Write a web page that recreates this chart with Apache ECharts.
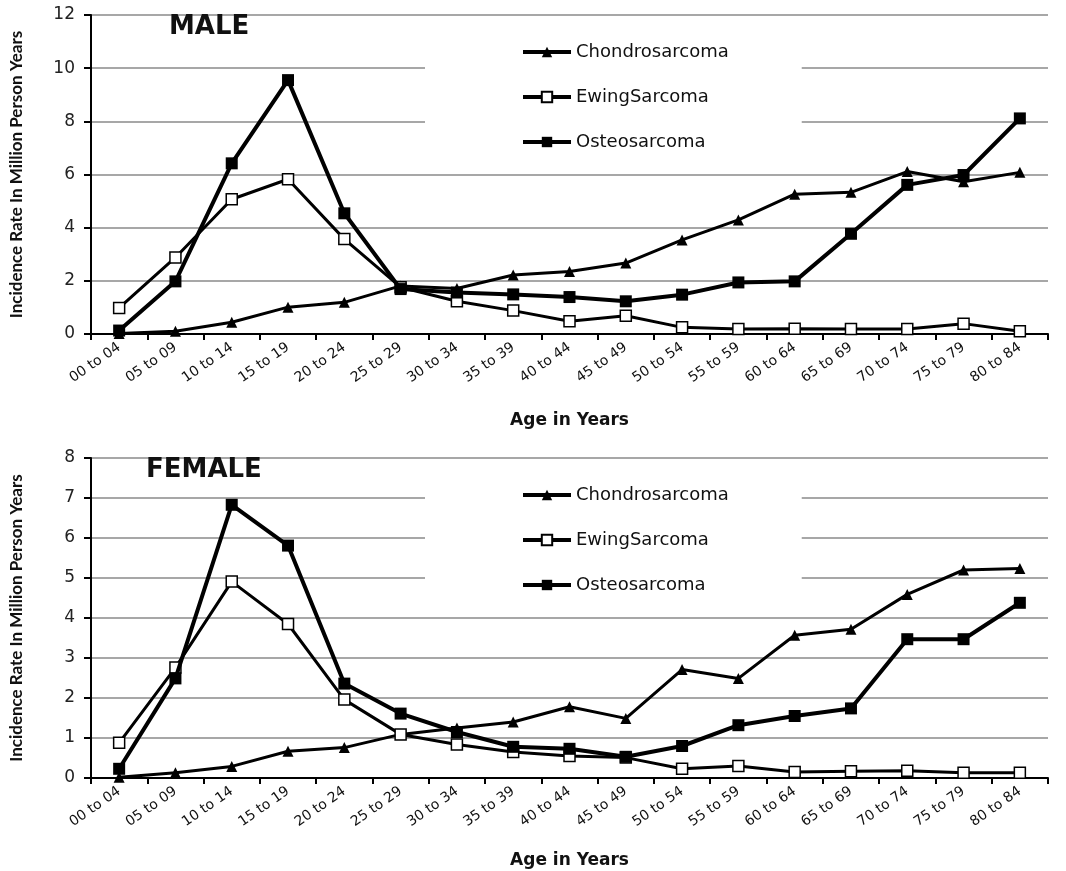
<!DOCTYPE html>
<html>
<head>
<meta charset="utf-8">
<script src="https://cdn.jsdelivr.net/npm/echarts@6/dist/echarts.min.js"></script>
<style>html,body{margin:0;padding:0;background:#fff;}#c{width:1066px;height:871px;}</style>
</head>
<body>
<div id="c"></div>
<script>
const categories = ['00 to 04','05 to 09','10 to 14','15 to 19','20 to 24','25 to 29','30 to 34','35 to 39','40 to 44','45 to 49','50 to 54','55 to 59','60 to 64','65 to 69','70 to 74','75 to 79','80 to 84'];
const seriesNames = ['Chondrosarcoma','EwingSarcoma','Osteosarcoma'];
const panelTitles = ['MALE','FEMALE'];
const xAxisName = 'Age in Years';
const yAxisName = 'Incidence Rate In Million Person Years';
const maleYTicks = {min:0, max:12, interval:2};
const femaleYTicks = {min:0, max:8, interval:1};

const maleChondro = [0.02,0.1,0.44,1.01,1.19,1.81,1.71,2.22,2.35,2.67,3.54,4.29,5.26,5.33,6.11,5.73,6.08];
const maleEwing   = [0.98,2.88,5.07,5.82,3.57,1.76,1.23,0.88,0.48,0.69,0.25,0.19,0.2,0.19,0.19,0.39,0.1];
const maleOsteo   = [0.13,1.98,6.42,9.55,4.54,1.69,1.56,1.49,1.39,1.23,1.48,1.94,1.98,3.77,5.61,5.98,8.11];

const femaleChondro = [0.02,0.13,0.29,0.67,0.76,1.09,1.25,1.4,1.78,1.49,2.71,2.49,3.57,3.72,4.59,5.2,5.24];
const femaleEwing   = [0.88,2.76,4.91,3.85,1.96,1.09,0.84,0.65,0.55,0.51,0.23,0.3,0.15,0.17,0.18,0.13,0.13];
const femaleOsteo   = [0.23,2.49,6.83,5.81,2.36,1.61,1.15,0.78,0.73,0.53,0.8,1.32,1.55,1.74,3.47,3.47,4.38];

const chart = echarts.init(document.getElementById('c'), null, {renderer:'canvas'});
const F = "'DejaVu Sans', sans-serif";

function xAx(gi){
  return {
    type:'category', gridIndex:gi, data:categories, boundaryGap:true,
    name:xAxisName, nameLocation:'middle', nameGap: gi===0 ? 78 : 74,
    nameTextStyle:{fontFamily:F, fontWeight:'bold', fontSize:17, color:'#111'},
    axisLine:{show:true, lineStyle:{color:'#000', width:2}},
    axisTick:{show:true, length:6, lineStyle:{color:'#000', width:2}},
    axisLabel:{rotate:35, fontFamily:F, fontSize:14, color:'#111', margin:12, interval:0},
    splitLine:{show:false}
  };
}
function yAx(gi, t){
  return {
    type:'value', gridIndex:gi, min:t.min, max:t.max, interval:t.interval,
    name:yAxisName, nameLocation:'middle', nameGap:66,
    nameTextStyle:{fontFamily:"Lato, sans-serif", fontWeight:'bold', fontSize:17, color:'#111'},
    axisLine:{show:true, lineStyle:{color:'#000', width:2}},
    axisTick:{show:true, length:7, lineStyle:{color:'#000', width:2}},
    axisLabel:{fontFamily:F, fontSize:17, color:'#222', margin:16},
    splitLine:{show:true, lineStyle:{color:'#8a8a8a', width:1.5}}
  };
}
function mk(name, data, gi){
  const base = {name, type:'line', xAxisIndex:gi, yAxisIndex:gi, data, smooth:false, z:3};
  if(name==='Chondrosarcoma'){
    return Object.assign(base,{symbol:'triangle', symbolSize:11,
      lineStyle:{color:'#000', width:3}, itemStyle:{color:'#000'}});
  }
  if(name==='EwingSarcoma'){
    return Object.assign(base,{symbol:'rect', symbolSize:11,
      lineStyle:{color:'#000', width:3}, itemStyle:{color:'#fff', borderColor:'#000', borderWidth:1.5}});
  }
  return Object.assign(base,{symbol:'rect', symbolSize:12, z:4,
    lineStyle:{color:'#000', width:4}, itemStyle:{color:'#000'}});
}
function legend(top){
  return {
    data:seriesNames, orient:'vertical', left:425, top:top,
    itemWidth:48, itemHeight:13, itemGap:27,
    padding:[16,73,16,96], backgroundColor:'#fff',
    lineStyle:{width:4},
    textStyle:{fontFamily:F, fontSize:18, color:'#111'},
    selectedMode:false
  };
}

chart.setOption({
  animation:false,
  backgroundColor:'#fff',
  title:[
    {text:panelTitles[0], left:164, top:9, textStyle:{fontFamily:F, fontWeight:'bold', fontSize:26, color:'#111'}},
    {text:panelTitles[1], left:141, top:452, textStyle:{fontFamily:F, fontWeight:'bold', fontSize:26, color:'#111'}}
  ],
  legend:[legend(27), legend(470)],
  grid:[
    {left:91, right:18, top:15, height:319, containLabel:false, outerBoundsMode:'none'},
    {left:91, right:18, top:458, height:320, containLabel:false, outerBoundsMode:'none'}
  ],
  xAxis:[xAx(0), xAx(1)],
  yAxis:[yAx(0, maleYTicks), yAx(1, femaleYTicks)],
  series:[
    mk(seriesNames[0], maleChondro, 0),
    mk(seriesNames[1], maleEwing, 0),
    mk(seriesNames[2], maleOsteo, 0),
    mk(seriesNames[0], femaleChondro, 1),
    mk(seriesNames[1], femaleEwing, 1),
    mk(seriesNames[2], femaleOsteo, 1)
  ]
});
</script>
</body>
</html>
